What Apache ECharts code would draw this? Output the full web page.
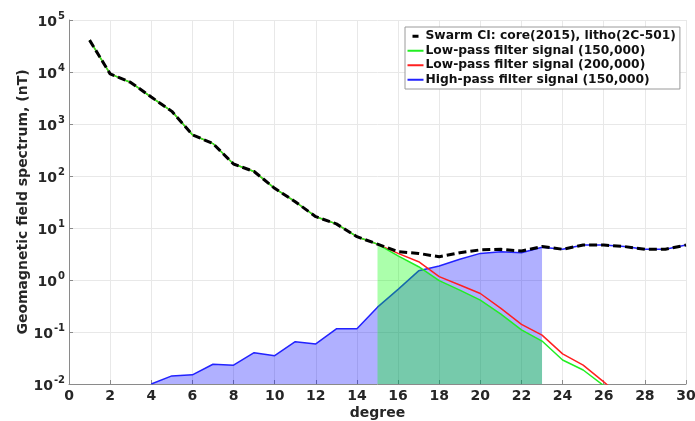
<!DOCTYPE html>
<html>
<head>
<meta charset="utf-8">
<script src="https://cdn.jsdelivr.net/npm/echarts@6/dist/echarts.min.js"></script>
<style>
  html, body { margin: 0; padding: 0; background: #fff; }
  #chart { width: 695px; height: 421px; }
</style>
</head>
<body>
<div id="chart"></div>
<script>
// Spherical harmonic degrees and power spectra (nT)
var degrees = [1, 2, 3, 4, 5, 6, 7, 8, 9, 10, 11, 12, 13, 14, 15,
               16, 17, 18, 19, 20, 21, 22, 23, 24, 25, 26, 27, 28, 29, 30];
var swarmCI = [41000, 9200, 6300, 3300, 1750, 620, 420, 170, 122, 58, 32, 16.5, 12, 6.8, 4.9,
               3.5, 3.25, 2.8, 3.35, 3.8, 3.9, 3.6, 4.4, 3.9, 4.7, 4.7, 4.4, 3.9, 3.9, 4.7];
// low-pass (150,000): degrees 1..26
var lowPass150 = [41000, 9200, 6300, 3300, 1750, 620, 420, 170, 122, 58, 32, 16.5, 12, 6.8, 4.9,
                  2.9, 1.8, 0.97, 0.64, 0.41, 0.22, 0.11, 0.067, 0.029, 0.0186, 0.0093];
// low-pass (200,000): degrees 1..27
var lowPass200 = [41000, 9200, 6300, 3300, 1750, 620, 420, 170, 122, 58, 32, 16.5, 12, 6.8, 4.9,
                  3.25, 2.25, 1.16, 0.8, 0.55, 0.285, 0.14, 0.087, 0.038, 0.023, 0.011, 0.005];
// high-pass (150,000): degrees 4..30
var highPassStart = 4;
var highPass150 = [0.01, 0.0143, 0.015, 0.024, 0.023, 0.04, 0.035, 0.065, 0.059, 0.115, 0.115,
                   0.3, 0.66, 1.5, 1.86, 2.5, 3.25, 3.5, 3.35, 4.25,
                   3.9, 4.7, 4.7, 4.4, 3.9, 3.9, 4.7];
// shaded degree windows
var highFillRange = [4, 23];
var lowFillRange = [15, 23];

var xTicks = [0, 2, 4, 6, 8, 10, 12, 14, 16, 18, 20, 22, 24, 26, 28, 30];
var yTickExponents = [-2, -1, 0, 1, 2, 3, 4, 5];

var names = {
  swarm: 'Swarm CI: core(2015), litho(2C-501)',
  low150: 'Low-pass filter signal (150,000)',
  low200: 'Low-pass filter signal (200,000)',
  high150: 'High-pass filter signal (150,000)'
};

function pairs(values, startDeg) {
  return values.map(function (v, i) { return [startDeg + i, v]; });
}
function slice(values, startDeg, range) {
  return pairs(values, startDeg).filter(function (p) {
    return p[0] >= range[0] && p[0] <= range[1];
  });
}

var fontFam = '"DejaVu Sans", sans-serif';
var textCol = '#262626';
var axisCol = '#8a8a8a';
var gridCol = '#e8e8e8';

var chart = echarts.init(document.getElementById('chart'), null, { renderer: 'canvas' });

var option = {
  animation: false,
  backgroundColor: '#ffffff',
  grid: { left: 69, right: 9, top: 20, bottom: 37, containLabel: false, outerBoundsMode: 'none' },
  xAxis: {
    type: 'value', min: xTicks[0], max: xTicks[xTicks.length - 1], interval: 2,
    name: 'degree', nameLocation: 'middle', nameGap: 22, nameMoveOverlap: false,
    nameTextStyle: { fontFamily: fontFam, fontWeight: 'bold', fontSize: 14, color: textCol },
    axisLine: { show: true, lineStyle: { color: axisCol, width: 1 } },
    axisTick: { show: true, inside: true, length: 4, lineStyle: { color: axisCol } },
    axisLabel: { fontFamily: fontFam, fontWeight: 'bold', fontSize: 14, color: textCol, margin: 5 },
    splitLine: { show: true, lineStyle: { color: gridCol, width: 1 } }
  },
  yAxis: {
    type: 'log', logBase: 10,
    min: Math.pow(10, yTickExponents[0]),
    max: Math.pow(10, yTickExponents[yTickExponents.length - 1]),
    interval: 1,
    name: 'Geomagnetic field spectrum, (nT)', nameLocation: 'middle', nameGap: 39, nameMoveOverlap: false,
    nameTextStyle: { fontFamily: fontFam, fontWeight: 'bold', fontSize: 14, color: textCol },
    axisLine: { show: true, lineStyle: { color: axisCol, width: 1 } },
    axisTick: { show: true, inside: true, length: 4, lineStyle: { color: axisCol } },
    axisLabel: {
      margin: 4,
      formatter: function (v) {
        var e = Math.round(Math.log10(v));
        return '{b|10}{s|' + e + '}';
      },
      rich: {
        b: { fontFamily: fontFam, fontWeight: 'bold', fontSize: 14, color: textCol, lineHeight: 18, verticalAlign: 'bottom' },
        s: { fontFamily: fontFam, fontWeight: 'bold', fontSize: 10, color: textCol, lineHeight: 18, verticalAlign: 'top', padding: [0, 0, 8, 1] }
      }
    },
    splitLine: { show: true, lineStyle: { color: gridCol, width: 1 } }
  },
  legend: {
    left: 405, top: 27, orient: 'vertical',
    padding: [2, 4, 2, 1], itemGap: 0,
    itemWidth: 16, itemHeight: 14,
    backgroundColor: '#ffffff', borderColor: '#9a9a9a', borderWidth: 1,
    itemStyle: { opacity: 0 },
    textStyle: { fontFamily: fontFam, fontWeight: 'bold', fontSize: 12.3, color: '#111', lineHeight: 14.5, padding: [0, 0, 0, -3] },
    data: [
      { name: names.swarm, lineStyle: { type: [0, 5, 6, 30], width: 3, color: '#000' } },
      { name: names.low150 },
      { name: names.low200 },
      { name: names.high150 }
    ]
  },
  series: [
    {
      name: 'high-band', type: 'line', data: slice(highPass150, highPassStart, highFillRange),
      showSymbol: false, symbol: 'none', silent: true,
      lineStyle: { width: 0, opacity: 0 },
      areaStyle: { color: 'rgba(0,0,255,0.31)', opacity: 1, origin: 'start' }, z: 1
    },
    {
      name: names.high150, type: 'line', data: pairs(highPass150, highPassStart),
      showSymbol: false, symbol: 'none',
      lineStyle: { color: '#2222ff', width: 1.5 }, itemStyle: { color: '#2222ff' }, z: 2
    },
    {
      name: 'low-band', type: 'line', data: slice(lowPass150, 1, lowFillRange),
      showSymbol: false, symbol: 'none', silent: true,
      lineStyle: { width: 0, opacity: 0 },
      areaStyle: { color: 'rgba(0,255,0,0.33)', opacity: 1, origin: 'start' }, z: 3
    },
    {
      name: names.low200, type: 'line', data: pairs(lowPass200, 1),
      showSymbol: false, symbol: 'none',
      lineStyle: { color: '#ff2020', width: 1.5 }, itemStyle: { color: '#ff2020' }, z: 4
    },
    {
      name: names.low150, type: 'line', data: pairs(lowPass150, 1),
      showSymbol: false, symbol: 'none',
      lineStyle: { color: '#22ee22', width: 1.5 }, itemStyle: { color: '#22ee22' }, z: 5
    },
    {
      name: names.swarm, type: 'line', data: pairs(swarmCI, 1),
      showSymbol: false, symbol: 'none',
      lineStyle: { color: '#000000', width: 3, type: [8, 4] }, itemStyle: { color: '#000' }, z: 6
    }
  ]
};

chart.setOption(option);
</script>
</body>
</html>
